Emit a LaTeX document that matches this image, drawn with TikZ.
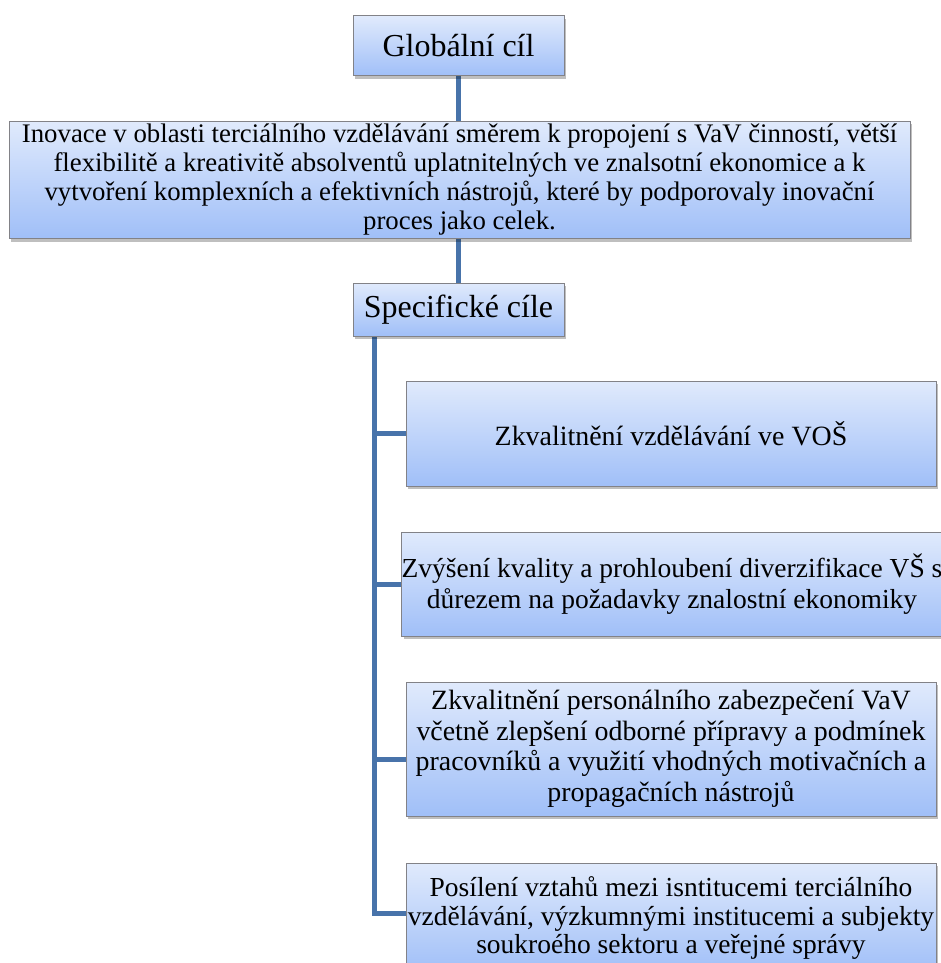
\documentclass[tikz,border=0pt]{standalone}
\usepackage{fontspec}
\setmainfont{Liberation Serif}
\usetikzlibrary{shadows}
\pgfdeclarelayer{bg}
\pgfsetlayers{bg,main}
\definecolor{conncol}{RGB}{72,115,170}
\definecolor{topc}{RGB}{224,234,252}
\definecolor{botc}{RGB}{160,191,248}
\definecolor{bordc}{RGB}{130,130,135}
\tikzset{
  boxstyle/.style={draw=bordc, line width=1pt, top color=topc, bottom color=botc,
    drop shadow={shadow xshift=2pt, shadow yshift=-3pt, fill=black, opacity=0.25},
    inner sep=0pt, align=center, text=black},
  conn/.style={draw=conncol, line width=5pt}
}
\begin{document}
\begin{tikzpicture}[x=1pt,y=-1pt]
\useasboundingbox (0,0) rectangle (941,963);
\clip (0,0) rectangle (941,963);
\node[boxstyle, minimum width=211pt, minimum height=60pt, font=\fontsize{32}{36}\selectfont] (glob) at (458.5,46) {Globální cíl};
\node[boxstyle, minimum width=901pt, minimum height=117pt, font=\fontsize{26.8}{29}\selectfont] (main) at (459.5,180) {Inovace v oblasti terciálního vzdělávání směrem k propojení s VaV činností, větší\\ flexibilitě a kreativitě absolventů uplatnitelných ve znalsotní ekonomice a k\\ vytvoření komplexních a efektivních nástrojů, které by podporovaly inovační\\ proces jako celek.};
\node[boxstyle, minimum width=211pt, minimum height=53pt, font=\fontsize{32}{36}\selectfont] (spec) at (458.5,309.5) {Specifické cíle};
\node[boxstyle, minimum width=530pt, minimum height=105pt, font=\fontsize{27.9}{30.5}\selectfont] (b1) at (671,433.5) {Zkvalitnění vzdělávání ve VOŠ};
\node[boxstyle, minimum width=534pt, minimum height=104pt, font=\fontsize{27.5}{30.5}\selectfont] (b2) at (672,584) {Zvýšení kvality a prohloubení diverzifikace VŠ s\\ důrezem na požadavky znalostní ekonomiky};
\node[boxstyle, minimum width=530pt, minimum height=134pt, font=\fontsize{27.9}{30.5}\selectfont] (b3) at (671,749) {Zkvalitnění personálního zabezpečení VaV\\ včetně zlepšení odborné přípravy a podmínek\\ pracovníků a využití vhodných motivačních a\\ propagačních nástrojů};
\node[boxstyle, minimum width=530pt, minimum height=110pt, font=\fontsize{27.5}{28.5}\selectfont] (b4) at (671,918) {Posílení vztahů mezi isntitucemi terciálního\\ vzdělávání, výzkumnými institucemi a subjekty\\ soukroého sektoru a veřejné správy};
\begin{pgfonlayer}{bg}
\draw[conn] (glob.south) -- (glob.south |- main.north);
\draw[conn] (glob.south |- main.south) -- (spec.north);
\draw[conn] ([xshift=21.5pt]spec.south west) |- ([yshift=5pt]b4.west);
\draw[conn] ([xshift=21.5pt]spec.south west |- b1.west) -- (b1.west);
\draw[conn] ([xshift=21.5pt]spec.south west |- b2.west) -- (b2.west);
\draw[conn] ([xshift=21.5pt,yshift=-10pt]spec.south west |- b3.west) -- ([yshift=-10pt]b3.west);
\end{pgfonlayer}
\end{tikzpicture}
\end{document}
